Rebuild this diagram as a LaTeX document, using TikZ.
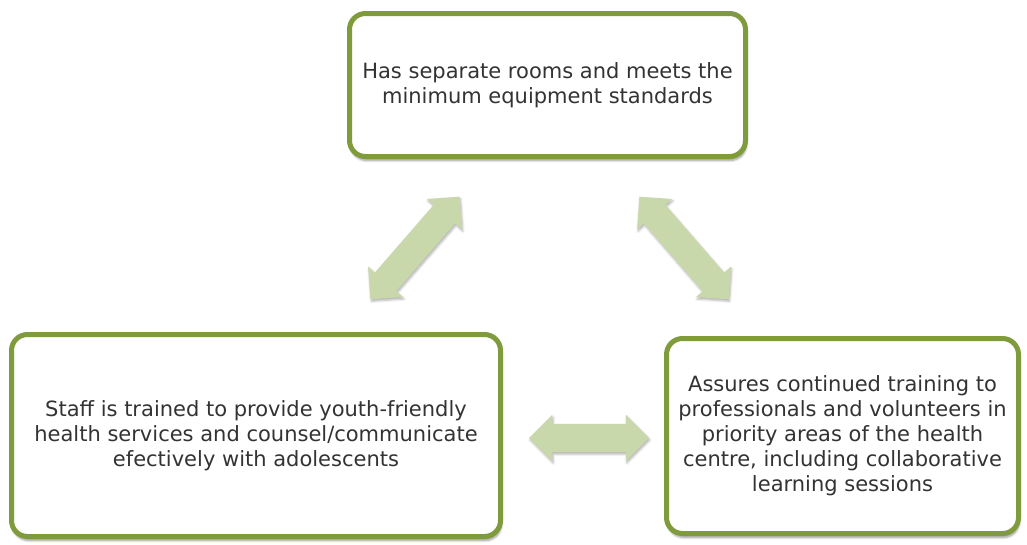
\documentclass[tikz,border=0pt]{standalone}
\usepackage{fontspec}
\setmainfont{DejaVu Sans}
\usetikzlibrary{shapes.arrows,shadows.blur}
\definecolor{frame}{HTML}{7F9B3C}
\definecolor{arrowfill}{HTML}{C8D8AA}
\definecolor{txt}{HTML}{333333}
\tikzset{
  box/.style={draw=frame, line width=5pt, rounded corners=16pt, fill=white,
    text=txt, align=center, font=\fontsize{21}{25}\selectfont, inner sep=0pt,
    blur shadow={shadow xshift=1pt, shadow yshift=-4pt, shadow blur steps=6, shadow opacity=40}},
  dbl/.style={double arrow, fill=arrowfill, draw=none, double arrow head extend=9pt,
    minimum height=#1, inner xsep=0pt, inner ysep=14pt,
    double arrow tip angle=90,
    blur shadow={shadow xshift=1pt, shadow yshift=-2pt, shadow blur steps=4, shadow opacity=30}}
}
\begin{document}
\begin{tikzpicture}[x=1pt,y=-1pt]
\useasboundingbox (0,0) rectangle (1027,544);
\node[box, minimum width=396pt, minimum height=143pt] (top) at (547.5,85) {Has separate rooms and meets the\\minimum equipment standards};
\node[box, minimum width=489pt, minimum height=202pt] (left) at (256,435.5) {Staff is trained to provide youth-friendly\\health services and counsel/communicate\\efectively with adolescents};
\node[box, minimum width=352pt, minimum height=195pt] (right) at (842.5,436) {Assures continued training to\\professionals and volunteers in\\priority areas of the health\\centre, including collaborative\\learning sessions};
\node[dbl=136pt, rotate=49] (a1) at (415,248) {};
\node[dbl=136pt, rotate=-49] (a2) at (684,248) {};
\node[dbl=120pt] (a3) at (589,438) {};
\end{tikzpicture}
\end{document}
